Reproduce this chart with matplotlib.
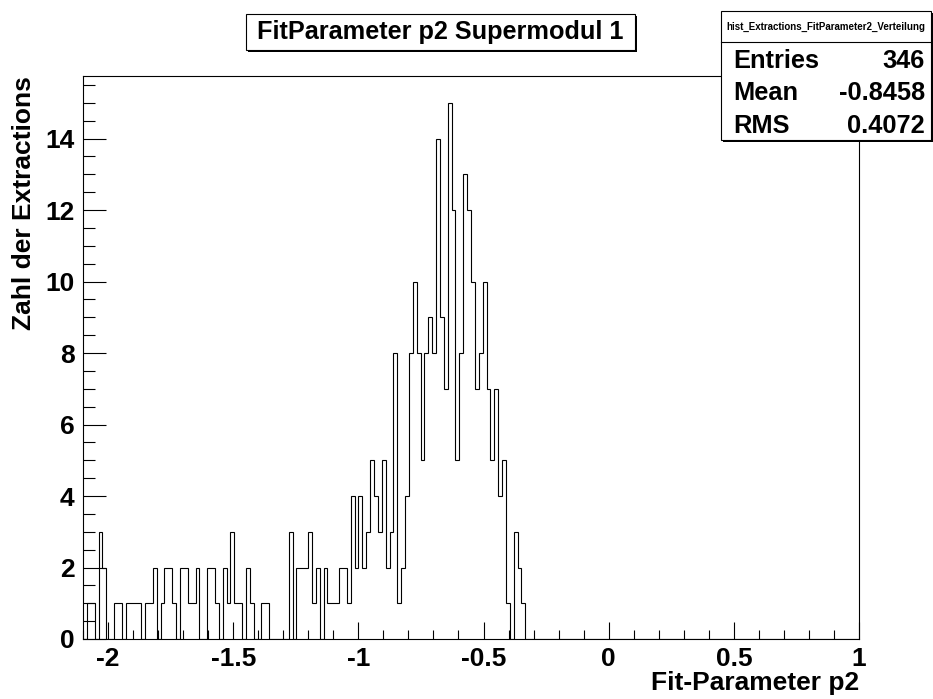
import numpy as np
import matplotlib
matplotlib.use("Agg")
import matplotlib.pyplot as plt
from matplotlib.patches import Rectangle
from matplotlib import font_manager

# ---------------- data ----------------
x_min, x_max, n_bins = -2.1, 1.0, 200
counts_nonzero = [
    0, 1, 1, 0, 3, 2, 0, 0, 1, 1, 0, 1, 1, 1, 1, 0, 1, 1,          # 0-17
    2, 0, 1, 2, 2, 1, 0, 2, 2, 1, 1, 2,                            # 18-29
    0, 0, 2, 2, 1, 0, 2, 1, 3, 1, 1, 0, 2, 1, 0, 0, 1, 1,          # 30-47
    0, 0, 0, 0, 0, 3, 0, 2, 2, 2,                                  # 48-57
    3, 1, 2, 0, 2, 1, 1, 1, 2, 2, 1,                               # 58-68
    4, 2, 4, 2, 3, 5, 4, 3, 5, 2, 3,                               # 69-79
    8, 1, 2, 4, 8, 10, 8, 5, 8, 9, 8,                              # 80-90
    14, 9, 7, 15, 12, 5, 8, 13, 12,                                # 91-99
    10, 7, 8, 10, 7, 5, 7, 4, 5, 1, 0, 3, 2, 1,                    # 100-113
]
counts = np.array(counts_nonzero + [0] * (n_bins - len(counts_nonzero)), dtype=float)
edges = np.linspace(x_min, x_max, n_bins + 1)

x_ticks = [-2, -1.5, -1, -0.5, 0, 0.5, 1]
x_ticklabels = ["-2", "-1.5", "-1", "-0.5", "0", "0.5", "1"]
y_ticks = [0, 2, 4, 6, 8, 10, 12, 14]
y_ticklabels = ["0", "2", "4", "6", "8", "10", "12", "14"]

title = "FitParameter p2 Supermodul 1"
x_label = "Fit-Parameter p2"
y_label = "Zahl der Extractions"
hist_name = "hist_Extractions_FitParameter2_Verteilung"
stats = [("Entries", "346"), ("Mean", "-0.8458"), ("RMS", "0.4072")]

# ---------------- fonts ----------------
avail = {f.name for f in font_manager.fontManager.ttflist}
narrow = "Liberation Sans Narrow" if "Liberation Sans Narrow" in avail else "Liberation Sans"
wide = "Liberation Sans"

W, H = 933, 699
fig = plt.figure(figsize=(W / 100, H / 100), dpi=100)
L, R, T, B = 83, 859, 76, 639
ax = fig.add_axes([L / W, 1 - B / H, (R - L) / W, (B - T) / H])

ax.stairs(counts, edges, color="black", lw=0.8, baseline=0)
ax.set_xlim(x_min, x_max)
ax.set_ylim(0, 15.75)

ax.set_xticks(x_ticks)
ax.set_xticklabels(x_ticklabels, fontfamily=narrow, fontweight="bold", fontsize=19)
ax.set_xticks(np.arange(-2.1, 1.0001, 0.1), minor=True)
ax.set_yticks(y_ticks)
ax.set_yticklabels(y_ticklabels, fontfamily=narrow, fontweight="bold", fontsize=19)
ax.set_yticks(np.arange(0, 15.76, 0.5), minor=True)

ax.tick_params(axis="x", which="major", direction="in", length=12.2, width=0.8, pad=6, top=False)
ax.tick_params(axis="x", which="minor", direction="in", length=6.2, width=0.8, top=False)
ax.tick_params(axis="y", which="major", direction="in", length=16.5, width=0.8, pad=6, right=False)
ax.tick_params(axis="y", which="minor", direction="in", length=8.3, width=0.8, right=False)
for s in ax.spines.values():
    s.set_linewidth(0.8)

fig.text(R / W, 1 - 683 / H, x_label, ha="right", va="center",
         fontfamily=narrow, fontweight="bold", fontsize=19)
fig.text(24 / W, 1 - T / H, y_label, ha="center", va="top", rotation=90,
         fontfamily=narrow, fontweight="bold", fontsize=19)

# title box with shadow
tx0, tx1, ty0, ty1 = 246, 635, 14, 50
fig.patches.append(Rectangle((tx0 / W + 2 / W, 1 - ty1 / H - 2 / H), (tx1 - tx0) / W, (ty1 - ty0) / H,
                             transform=fig.transFigure, facecolor="black", edgecolor="none"))
fig.patches.append(Rectangle((tx0 / W, 1 - ty1 / H), (tx1 - tx0) / W, (ty1 - ty0) / H,
                             transform=fig.transFigure, facecolor="white", edgecolor="black", lw=0.8))
fig.text((tx0 + tx1) / 2 / W, 1 - (ty0 + ty1) / 2 / H, title, ha="center", va="center",
         fontfamily=wide, fontweight="bold", fontsize=18.2)

# stats box
sx0, sx1, sy0, sy1, sep = 721, 931, 11, 140, 42
fig.patches.append(Rectangle((sx0 / W + 2 / W, 1 - sy1 / H - 2 / H), (sx1 - sx0) / W, (sy1 - sy0) / H,
                             transform=fig.transFigure, facecolor="black", edgecolor="none"))
fig.patches.append(Rectangle((sx0 / W, 1 - sy1 / H), (sx1 - sx0) / W, (sy1 - sy0) / H,
                             transform=fig.transFigure, facecolor="white", edgecolor="black", lw=0.8))
fig.add_artist(plt.Line2D([sx0 / W, sx1 / W], [1 - sep / H, 1 - sep / H], color="black", lw=0.8))
fig.text((sx0 + sx1) / 2 / W, 1 - 27 / H, hist_name, ha="center", va="center",
         fontfamily=wide, fontweight="bold", fontsize=7.0)
for i, (k, v) in enumerate(stats):
    yy = 1 - (61 + 32.5 * i) / H
    fig.text(733 / W, yy, k, ha="left", va="center", fontfamily=wide, fontweight="bold", fontsize=18.3)
    fig.text(925 / W, yy, v, ha="right", va="center", fontfamily=wide, fontweight="bold", fontsize=18.3)

fig.savefig("out.png", dpi=100, facecolor="white")
